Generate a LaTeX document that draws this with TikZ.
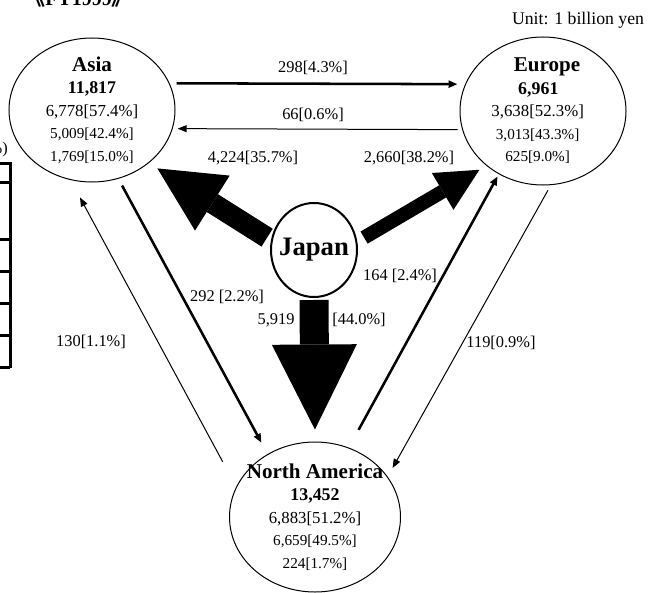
\documentclass[tikz,border=0pt]{standalone}
\usepackage{fontspec}
\setmainfont{Liberation Serif}
\newfontfamily\cjkfont{Noto Sans CJK SC}
\usetikzlibrary{arrows.meta,shapes.geometric}

\newcommand{\regname}[1]{{\fontsize{15.8}{16.9}\selectfont\bfseries #1}}
\newcommand{\regtotal}[1]{{\fontsize{13.4}{16.9}\selectfont\bfseries #1}}
\newcommand{\regtop}[1]{{\fontsize{12.6}{16.9}\selectfont #1}}

\begin{document}
\begin{tikzpicture}[x=0.75pt,y=-0.75pt,>={Triangle[length=6.75pt,width=5.25pt]},
	region/.style={draw,ellipse,line width=0.75pt,inner sep=-10pt,align=center,font=\fontsize{11.4}{16.9}\selectfont},
	hub/.style={draw,ellipse,line width=1.5pt,inner sep=-6pt,minimum width=64.5pt,minimum height=70.5pt,font=\fontsize{20}{24}\selectfont\bfseries},
	lbl/.style={inner sep=0pt,font=\fontsize{12.3}{14}\selectfont},
	heavy/.style={->,line width=1.9pt},
	light/.style={->,line width=0.75pt},
	fat/.style 2 args={line width=#1,-{Triangle[length=#2,width=#2,line width=0pt]}},
	tbl/.style={line width=2.25pt}]

	\useasboundingbox (0,0) rectangle (649,592);
	\clip (0,0) rectangle (649,592);

	% cut-off title and table at the left edge
	\node[anchor=base west,inner sep=0pt,font=\fontsize{15}{18}\selectfont\bfseries] (title) at (25,5.5) {{\cjkfont 《}FY1999{\cjkfont 》}};
	\node[anchor=east,inner sep=0pt,font=\fontsize{12.3}{14}\selectfont] (tblunit) at (8,150) {(\%)};
	\draw[tbl] (10,162) -- (10,368);
	\foreach \y in {163,182,239,271,303,335,367} \draw[tbl] (-5,\y) -- (10,\y);

	\node[region,minimum width=124.5pt,minimum height=108pt] (asia) at (92,110) {\regname{Asia}\\\regtotal{11,817}\\\regtop{6,778[57.4\%]}\\5,009[42.4\%]\\1,769[15.0\%]};
	\node[region,minimum width=124.5pt,minimum height=111pt] (eu) at (543,111) {\mbox{\kern6pt\regname{Europe}}\\\mbox{\regtotal{6,961}\kern7pt}\\\mbox{\regtop{3,638[52.3\%]}\kern8pt}\\\mbox{3,013[43.3\%]\kern8pt}\\\mbox{625[9.0\%]\kern8pt}};
	\node[region,minimum width=128.25pt,minimum height=112.5pt] (na) at (315,517) {\regname{North America}\\\regtotal{13,452}\\\regtop{6,883[51.2\%]}\\6,659[49.5\%]\\224[1.7\%]};
	\node[hub] (jp) at (314,250) {Japan};

	\node[lbl,font=\fontsize{13.3}{16}\selectfont] (unit) at (578,20) {Unit: 1 billion yen};

	% exports from Japan
	\draw[fat={15.75pt}{48.75pt}, shorten <=3.4pt, shorten >=7.5pt] (jp.167) -- (asia.-43);
	\draw[fat={10.5pt}{32pt}, shorten <=5.9pt, shorten >=6pt] (jp.11) -- (eu.-136);
	\draw[fat={21.75pt}{63.75pt}, shorten <=1.5pt, shorten >=9pt] (jp.south) -- (na.north);

	% between the regions
	\draw[heavy, shorten <=5.25pt, shorten >=5.7pt] (asia.19) -- (eu.161);
	\draw[light, shorten <=3.4pt, shorten >=3.75pt] (eu.193) -- (asia.-13);
	\draw[heavy, shorten <=5.8pt, shorten >=9.6pt] (asia.-69) -- (na.127);
	\draw[light, shorten <=21.3pt, shorten >=14.8pt] (na.159) -- (asia.-107);
	\draw[heavy, shorten <=15.2pt, shorten >=1.8pt] (na.64) -- (eu.-125);
	\draw[light, shorten <=4.5pt, shorten >=7.5pt] (eu.-84) -- (na.29);

	\node[lbl] (vAE) at (313,68) {298[4.3\%]};
	\node[lbl] (vEA) at (313,115) {66[0.6\%]};
	\node[lbl] (vJA) at (253,158) {4,224[35.7\%]};
	\node[lbl] (vJE) at (409,158) {2,660[38.2\%]};
	\node[lbl] (vNE) at (400,276) {164 [2.4\%]};
	\node[lbl] (vAN) at (227,297) {292 [2.2\%]};
	\node[lbl] (vJN) at (276,320) {5,919};
	\node[lbl] (vJNp) at (359,320) {[44.0\%]};
	\node[lbl] (vNA) at (91,342) {130[1.1\%]};
	\node[lbl] (vEN) at (501,343) {119[0.9\%]};

\end{tikzpicture}
\end{document}
